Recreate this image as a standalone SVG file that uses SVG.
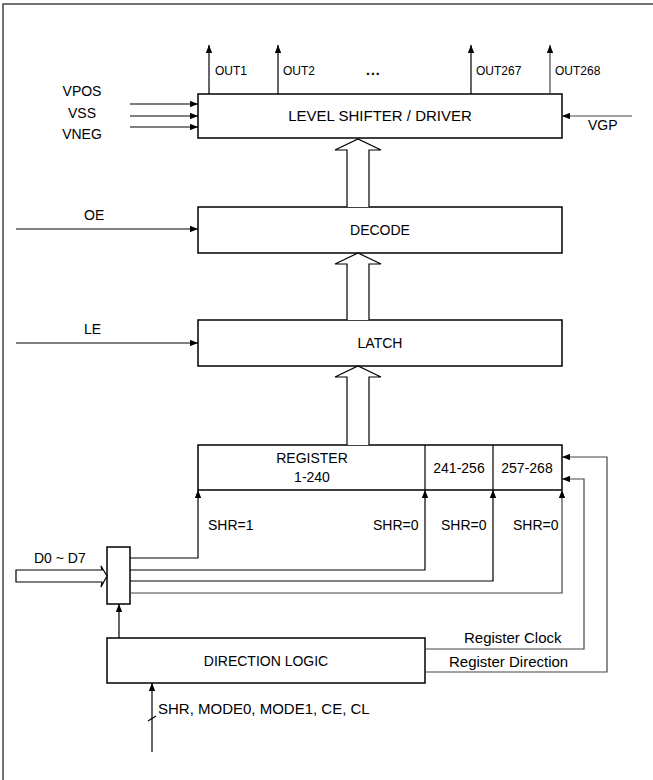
<svg xmlns="http://www.w3.org/2000/svg" width="653" height="780" viewBox="0 0 653 780">
<style>
text{font-family:"Liberation Sans",Arial,sans-serif;font-size:14px;fill:#000}
.s{font-size:12px}
.m{font-size:15px}
.box{fill:#fff;stroke:#000;stroke-width:1.5}
.ln{fill:none;stroke:#000;stroke-width:1.2}
.g{fill:none;stroke:#444;stroke-width:1.2}
.ha{fill:#fff;stroke:#000;stroke-width:1.2}
.c{text-anchor:middle}
</style>
<defs>
<marker id="ah" viewBox="0 0 10 8" refX="10" refY="4" markerWidth="8" markerHeight="6.4" markerUnits="userSpaceOnUse" orient="auto">
<path d="M0,0 L10,4 L0,8 z" fill="#000"/>
</marker>
</defs>
<rect width="653" height="780" fill="#fff"/>
<path d="M3,780 V4 H653" fill="none" stroke="#444" stroke-width="1.5"/>

<g id="level-shifter">
<rect class="box" x="198" y="94" width="364" height="44"/>
<text class="c m" x="380" y="121">LEVEL SHIFTER / DRIVER</text>
</g>
<g id="decode">
<rect class="box" x="198" y="207" width="364" height="46"/>
<text class="c" x="380" y="235">DECODE</text>
</g>
<g id="latch">
<rect class="box" x="198" y="320" width="364" height="46"/>
<text class="c" x="380" y="348">LATCH</text>
</g>
<g id="register">
<rect class="box" x="198" y="445" width="364" height="45"/>
<line class="ln" x1="425" y1="445" x2="425" y2="490"/>
<line class="ln" x1="493" y1="445" x2="493" y2="490"/>
<text class="c" x="312" y="463">REGISTER</text>
<text class="c" x="312" y="482">1-240</text>
<text class="c" x="459" y="473">241-256</text>
<text class="c" x="527" y="473">257-268</text>
</g>
<g id="mux">
<rect class="box" x="107" y="547" width="23" height="57"/>
</g>
<g id="direction-logic">
<rect class="box" x="107" y="638" width="318" height="45"/>
<text class="c" x="266" y="666">DIRECTION LOGIC</text>
</g>

<g id="connectors">
<line class="ln" x1="209" y1="94" x2="209" y2="45" marker-end="url(#ah)"/>
<line class="ln" x1="278" y1="94" x2="278" y2="45" marker-end="url(#ah)"/>
<line class="ln" x1="471" y1="94" x2="471" y2="45" marker-end="url(#ah)"/>
<line class="g" x1="550" y1="94" x2="550" y2="45" marker-end="url(#ah)"/>
<line class="ln" x1="130" y1="104" x2="198" y2="104" marker-end="url(#ah)"/>
<line class="ln" x1="130" y1="116" x2="198" y2="116" marker-end="url(#ah)"/>
<line class="ln" x1="130" y1="127" x2="198" y2="127" marker-end="url(#ah)"/>
<line class="g" x1="632" y1="116" x2="562" y2="116" marker-end="url(#ah)"/>
<line class="ln" x1="16" y1="229" x2="198" y2="229" marker-end="url(#ah)"/>
<line class="ln" x1="16" y1="343" x2="198" y2="343" marker-end="url(#ah)"/>
<path class="ha" d="M347,207 V150 H335 L358,139 L381,150 H369 V207"/>
<path class="ha" d="M347,320 V264 H335 L358,253 L381,264 H369 V320"/>
<path class="ha" d="M347,445 V377 H335 L358,366 L381,377 H369 V445"/>
<path class="ha" d="M16,570 H102 L101,566 L107,576 L101,587 L102,582 H16 Z"/>
<polyline class="ln" points="130,558 198,558 198,490" marker-end="url(#ah)"/>
<polyline class="ln" points="130,570 425,570 425,490" marker-end="url(#ah)"/>
<polyline class="ln" points="130,581 493,581 493,490" marker-end="url(#ah)"/>
<polyline class="g" points="130,593 562,593 562,490" marker-end="url(#ah)"/>
<line class="ln" x1="119" y1="638" x2="119" y2="604" marker-end="url(#ah)"/>
<line class="ln" x1="152" y1="752" x2="152" y2="683" marker-end="url(#ah)"/>
<line class="ln" x1="148" y1="721" x2="156" y2="716" stroke-width="0.8"/>
<polyline class="g" points="425,649 584,649 584,479 562,479" marker-end="url(#ah)"/>
<polyline class="g" points="425,672 607,672 607,457 562,457" marker-end="url(#ah)"/>
</g>

<g id="labels">
<text class="s" x="215" y="75">OUT1</text>
<text class="s" x="283" y="75">OUT2</text>
<text x="366" y="75" font-size="18" font-weight="bold" letter-spacing="1">...</text>
<text class="s" x="476" y="75">OUT267</text>
<text class="s" x="555" y="75">OUT268</text>
<text class="c" x="82" y="96">VPOS</text>
<text class="c" x="82" y="118">VSS</text>
<text class="c" x="82" y="139">VNEG</text>
<text x="588" y="130">VGP</text>
<text x="84" y="220">OE</text>
<text x="84" y="334">LE</text>
<text x="34" y="563">D0 ~ D7</text>
<text x="208" y="530">SHR=1</text>
<text x="373" y="530">SHR=0</text>
<text x="441" y="530">SHR=0</text>
<text x="513" y="530">SHR=0</text>
<text class="m" x="464" y="643">Register Clock</text>
<text class="m" x="449" y="667">Register Direction</text>
<text class="m" x="158" y="714">SHR, MODE0, MODE1, CE, CL</text>
</g>
</svg>
